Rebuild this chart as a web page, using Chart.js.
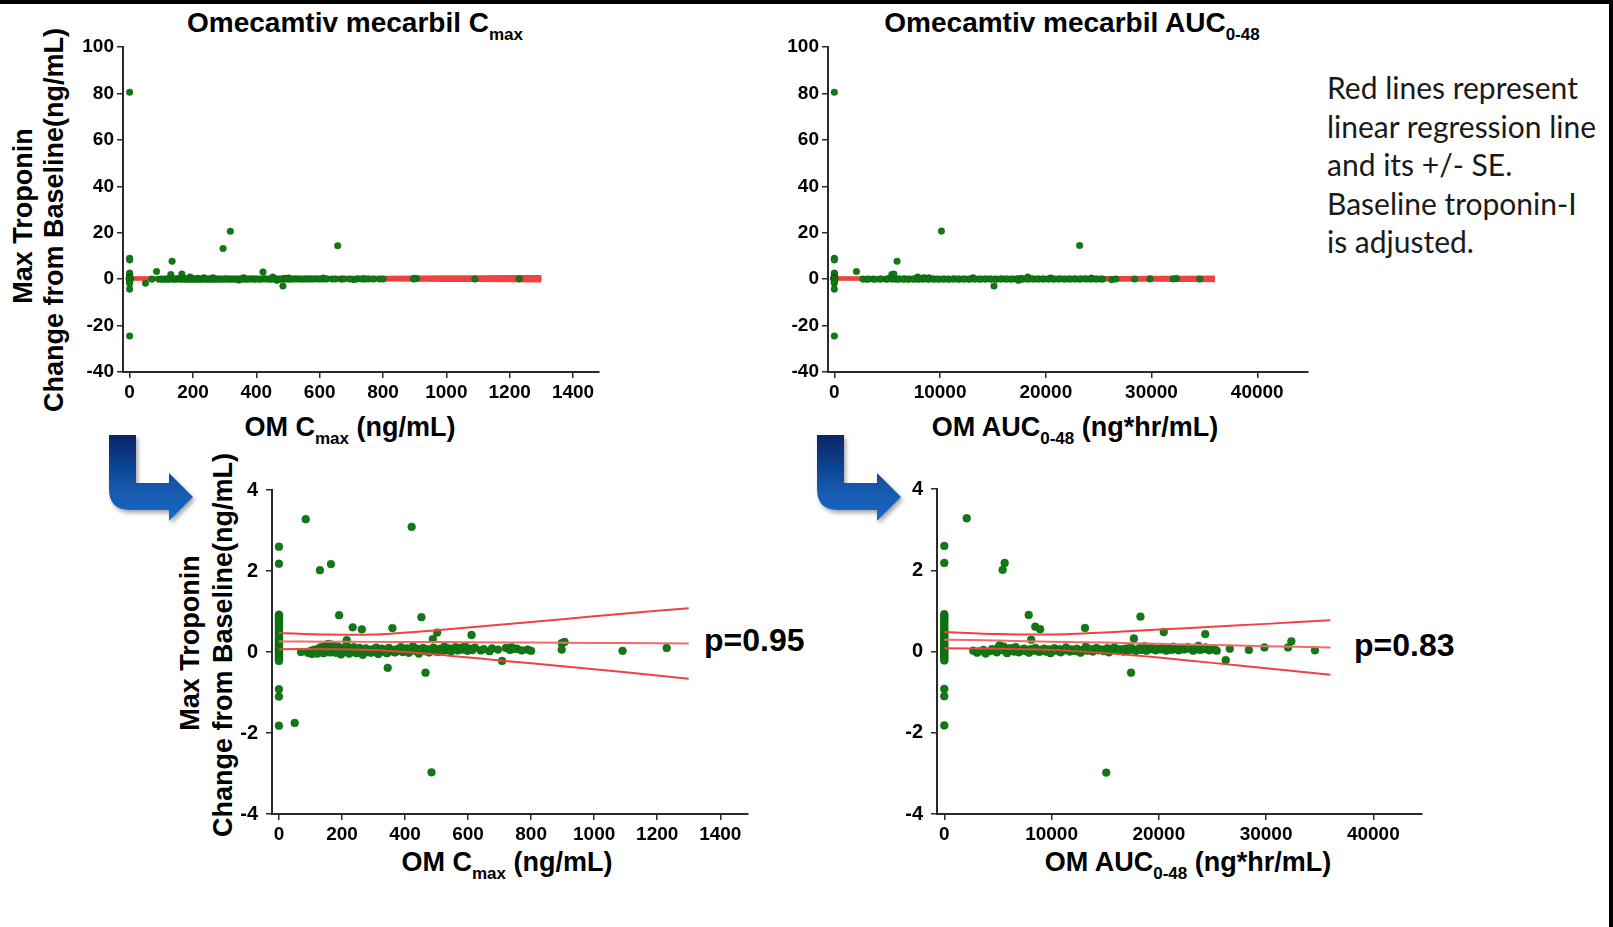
<!DOCTYPE html>
<html><head><meta charset="utf-8">
<script src="https://cdn.jsdelivr.net/npm/chart.js@4.4.1/dist/chart.umd.min.js"></script>
<style>
html,body{margin:0;padding:0;background:#fff;}
#stage{position:relative;width:1613px;height:927px;overflow:hidden;background:#fff;font-family:'Liberation Sans',Arial,sans-serif;}
.lbl{position:absolute;white-space:nowrap;font-weight:bold;color:#000;font-size:27px;line-height:30px;transform:translateX(-50%);}
.ttl{font-size:28px;}
.sub{font-size:17px;position:relative;top:8px;}
.ylab{position:absolute;white-space:nowrap;font-weight:bold;color:#000;font-size:27px;line-height:30px;transform:translate(-50%,-50%) rotate(-90deg);}
.pval{position:absolute;font-weight:bold;font-size:32px;line-height:36px;color:#000;}
.note{position:absolute;left:1327px;top:68px;font-family:Lato,'Open Sans',sans-serif;font-size:30px;line-height:38.6px;color:#1a1a1a;white-space:nowrap;}
canvas{position:absolute;}
.bar{position:absolute;background:#000;}
</style></head>
<body>
<div id="stage">
  <div class="bar" style="left:0;top:0;width:1613px;height:4px"></div>
  <div class="bar" style="left:1609px;top:0;width:4px;height:927px"></div>

  <div class="lbl ttl" style="left:355px;top:8px">Omecamtiv mecarbil C<span class="sub">max</span></div>
  <div class="lbl ttl" style="left:1072px;top:8px">Omecamtiv mecarbil AUC<span class="sub">0-48</span></div>
  <div class="lbl" style="left:350px;top:412px">OM C<span class="sub">max</span> (ng/mL)</div>
  <div class="lbl" style="left:1075px;top:412px">OM AUC<span class="sub">0-48</span> (ng*hr/mL)</div>
  <div class="lbl" style="left:507px;top:847px">OM C<span class="sub">max</span> (ng/mL)</div>
  <div class="lbl" style="left:1188px;top:847px">OM AUC<span class="sub">0-48</span> (ng*hr/mL)</div>

  <div class="ylab" style="left:23px;top:216px">Max Troponin</div>
  <div class="ylab" style="left:54px;top:220px">Change from Baseline(ng/mL)</div>
  <div class="ylab" style="left:190px;top:643px">Max Troponin</div>
  <div class="ylab" style="left:223px;top:645px">Change from Baseline(ng/mL)</div>

  <div class="pval" style="left:704px;top:622px">p=0.95</div>
  <div class="pval" style="left:1354px;top:627px">p=0.83</div>

  <div class="note">Red lines represent<br>linear regression line<br>and its +/- SE.<br>Baseline troponin-I<br>is adjusted.</div>

  <svg style="position:absolute;left:0;top:0" width="1613" height="927">
    <defs>
      <linearGradient id="g1" x1="0" y1="435" x2="0" y2="522" gradientUnits="userSpaceOnUse">
        <stop offset="0" stop-color="#0b2466"/><stop offset="0.55" stop-color="#1254a8"/><stop offset="1" stop-color="#1a6cc6"/>
      </linearGradient>
      <filter id="sh" x="-20%" y="-20%" width="150%" height="150%">
        <feGaussianBlur in="SourceAlpha" stdDeviation="2"/><feOffset dx="2" dy="3"/>
        <feComponentTransfer><feFuncA type="linear" slope="0.35"/></feComponentTransfer>
        <feMerge><feMergeNode/><feMergeNode in="SourceGraphic"/></feMerge>
      </filter>
    </defs>
    <path filter="url(#sh)" fill="url(#g1)" d="M109,435 L136,435 L136,483 L169,483 L169,473 L193,497 L169,521 L169,510 L130,510 Q109,510 109,489 Z"/>
    <path filter="url(#sh)" fill="url(#g1)" transform="translate(708,0)" d="M109,435 L136,435 L136,483 L169,483 L169,473 L193,497 L169,521 L169,510 L130,510 Q109,510 109,489 Z"/>
  </svg>
</div>
<script>
// ---------- tick labels ----------
const tickCmax = [0, 200, 400, 600, 800, 1000, 1200, 1400];
const tickAuc = [0, 10000, 20000, 30000, 40000];
const tickTopY = [-40, -20, 0, 20, 40, 60, 80, 100];
const tickBottomY = [-4, -2, 0, 2, 4];

// ---------- placebo (x = 0) troponin change ----------
const placeboY = [80.5, 9.0, 8.3, 2.6, 2.18, 0.92, 0.88, 0.84, 0.8, 0.76, 0.71, 0.66, 0.6, 0.55, 0.5, 0.46, 0.42, 0.38, 0.34, 0.3, 0.26, 0.22, 0.18, 0.14, 0.1, 0.07, 0.04, 0.01, -0.02, -0.06, -0.1, -0.14, -0.18, -0.22, -0.92, -1.1, -1.82, -4.3, -24.5];

// ---------- Cmax scatter ----------
const cmaxOutliers = [[50,-1.75],[85,3.28],[130,2.02],[165,2.17],[421,3.09],[191,0.91],[234,0.61],[263,0.56],[360,0.59],[452,0.86],[502,0.48],[488,0.32],[611,0.42],[215,0.29],[345,-0.39],[465,-0.51],[484,-2.97],[708,-0.22],[897,0.22],[906,0.25],[897,0.06],[1090,0.03],[1230,0.1],[789,0.06],[800,0.03],[755,0.08],[738,0.12],[134,7.7],[295,13.2],[318,20.6],[657,14.4]];
const cmaxBandX = [70,92,100,105,112,118,122,127,133,138,142,147,151,156,160,163,168,172,176,180,184,188,193,197,201,205,210,214,219,223,228,232,237,242,246,251,256,260,266,271,276,281,287,292,298,303,309,315,320,326,331,337,343,349,355,362,368,374,380,387,393,399,405,412,418,425,431,438,444,450,457,463,470,476,483,490,497,504,511,518,525,532,539,546,553,560,567,574,582,590,598,606,614,622,640,650,668,676,695,720,733,745,770];
const cmaxBandY = [0.00,-0.02,0.03,-0.05,0.06,0.01,-0.04,0.09,0.12,0.02,-0.03,0.15,0.05,0.2,0.08,-0.01,0.18,0.04,0.11,-0.02,0.07,0.13,0.02,-0.06,0.09,0.05,0.0,0.16,0.03,-0.04,0.08,0.01,0.12,0.05,-0.03,0.06,0.1,0.02,-0.07,0.04,0.09,0.0,0.05,-0.02,0.07,0.03,0.11,-0.05,0.04,0.08,0.01,0.06,-0.03,0.1,0.02,0.05,-0.01,0.07,0.03,0.12,0.0,0.04,0.09,-0.02,0.06,0.14,0.03,0.08,-0.04,0.05,0.1,0.02,0.07,-0.01,0.04,0.11,0.06,0.0,0.08,0.03,0.13,0.05,0.09,0.02,0.07,0.12,0.04,0.1,0.06,0.15,0.03,0.08,0.05,0.11,0.04,0.07,0.02,0.09,0.06,0.1,0.05,0.08,0.04];

// ---------- AUC scatter ----------
const aucOutliers = [[2090,3.28],[5440,2.01],[5630,2.18],[7870,0.9],[8480,0.61],[8940,0.55],[13120,0.58],[18290,0.86],[20460,0.48],[24330,0.43],[17680,0.32],[8100,0.29],[17410,-0.52],[15100,-2.98],[26240,-0.21],[32360,0.25],[32050,0.1],[34560,0.03],[28400,0.04],[29850,0.1],[26620,0.07],[5930,7.7],[10130,20.7],[23200,14.5]];
const aucBandX = [2700,3050,3200,3650,3850,4300,4450,4900,5050,5150,5450,5550,5850,6050,6150,6500,6650,6950,7100,7450,7550,7900,8050,8350,8500,8850,8950,9300,9450,9750,9900,10250,10400,10750,10850,11200,11350,11700,11850,12200,12350,12700,12850,13200,13350,13700,13850,14200,14350,14700,14850,15200,15350,15700,15850,16200,16350,16700,16850,17200,17350,17700,17850,18200,18350,18700,18850,19200,19350,19700,19850,20200,20350,20700,20850,21200,21350,21700,21850,22200,22350,22700,22850,23200,23350,23700,23850,24200,24350,24700,24850,25200,25400];
const aucBandY = [0.02,-0.03,0.0,0.04,-0.05,0.01,0.06,-0.02,0.1,0.15,0.03,0.12,-0.04,0.05,0.08,0.0,0.11,-0.02,0.04,0.07,0.01,-0.03,0.06,0.02,0.09,-0.01,0.04,0.07,0.0,0.05,-0.04,0.08,0.02,0.06,-0.02,0.03,0.1,0.0,0.05,0.01,0.07,-0.03,0.04,0.12,0.02,0.06,0.0,0.09,0.03,0.05,0.01,0.08,-0.02,0.04,0.1,0.02,0.06,0.0,0.07,0.03,0.11,0.05,0.01,0.08,0.04,0.13,0.02,0.06,0.09,0.03,0.07,0.05,0.1,0.02,0.08,0.04,0.12,0.06,0.03,0.09,0.05,0.11,0.07,0.02,0.08,0.14,0.04,0.06,0.1,0.03,0.07,0.05,0.02];

// ---------- regression line and +/- SE ----------
const cmaxFitX = [0, 150, 300, 500, 700, 900, 1100, 1300];
const cmaxFitUpper = [0.47, 0.43, 0.43, 0.54, 0.67, 0.81, 0.95, 1.08];
const cmaxFitMid = [0.26, 0.255, 0.25, 0.245, 0.235, 0.23, 0.22, 0.21];
const cmaxFitLower = [0.07, 0.07, 0.05, -0.06, -0.21, -0.35, -0.50, -0.66];

const aucFitX = [0, 5000, 10000, 15000, 20000, 25000, 30000, 36000];
const aucFitUpper = [0.48, 0.43, 0.42, 0.47, 0.54, 0.61, 0.68, 0.77];
const aucFitMid = [0.29, 0.27, 0.24, 0.22, 0.19, 0.16, 0.13, 0.10];
const aucFitLower = [0.08, 0.07, 0.04, -0.04, -0.15, -0.28, -0.41, -0.57];

// ---------- build ----------
const GREEN = '#117a14', RED = '#ef4242', RED_MID = '#f26a6a', AXIS = '#2a2a2a';
const FONT = "'Liberation Sans', Arial, sans-serif";

function pts(outliers, bx, by) {
  const a = placeboY.map(y => ({x: 0, y}));
  outliers.forEach(([x, y]) => a.push({x, y}));
  bx.forEach((x, i) => a.push({x, y: by[i]}));
  return a;
}
function line(xs, ys) { return xs.map((x, i) => ({x, y: ys[i]})); }

function makeChart(area, xr, yr, xt, yt, points, fits, opt) {
  const Wy = 75, Hx = 45, padTop = 26, padRight = 20;
  const c = document.createElement('canvas');
  const w = area.R - area.L + Wy + padRight, h = area.B - area.T + padTop + Hx;
  c.width = w; c.height = h;
  c.style.left = (area.L - Wy) + 'px'; c.style.top = (area.T - padTop) + 'px';
  document.getElementById('stage').appendChild(c);
  const ds = [{
    data: points, type: 'scatter', showLine: false, pointRadius: opt.dotR,
    pointBackgroundColor: GREEN, pointBorderColor: '#0b5e0d', pointBorderWidth: 0.5,
    order: opt.linesOnTop ? 1 : 0, clip: 4
  }];
  fits.forEach((f, i) => ds.push({
    data: f, type: 'scatter', showLine: true, pointRadius: 0,
    borderColor: (i === 1 && opt.linesOnTop) ? RED_MID : RED,
    borderWidth: opt.lineW, tension: 0.3, fill: false, order: opt.linesOnTop ? 0 : 1
  }));
  const axisCommon = (ticksArr, isX) => ({
    type: 'linear',
    afterBuildTicks: s => { s.ticks = ticksArr.map(v => ({value: v})); },
    afterFit: s => { if (isX) s.height = Hx; else s.width = Wy; },
    grid: {display: true, drawOnChartArea: false, drawTicks: true, tickLength: 6, color: AXIS, lineWidth: 1.5},
    border: {display: true, color: AXIS, width: 2},
    ticks: {font: {family: FONT, size: isX ? 19 : opt.yFont, weight: 'bold'}, color: '#000',
            padding: isX ? 3 : opt.yPad, autoSkip: false, maxRotation: 0, minRotation: 0,
            callback: v => String(v)}
  });
  new Chart(c, {
    type: 'scatter',
    data: {datasets: ds},
    options: {
      responsive: false, animation: false, events: [],
      layout: {padding: {left: 0, top: padTop, right: padRight, bottom: 0}},
      plugins: {legend: {display: false}, tooltip: {enabled: false}},
      scales: {
        x: Object.assign(axisCommon(xt, true), {min: xr[0], max: xr[1]}),
        y: Object.assign(axisCommon(yt, false), {min: yr[0], max: yr[1]})
      }
    }
  });
}

const cmaxPts = pts(cmaxOutliers, cmaxBandX, cmaxBandY);
const aucPts = pts(aucOutliers, aucBandX, aucBandY);
const cmaxFits = [line(cmaxFitX, cmaxFitUpper), line(cmaxFitX, cmaxFitMid), line(cmaxFitX, cmaxFitLower)];
const aucFits = [line(aucFitX, aucFitUpper), line(aucFitX, aucFitMid), line(aucFitX, aucFitLower)];

const topOpt = {linesOnTop: false, dotR: 3.3, lineW: 3.5, yFont: 19, yPad: 3};
const botOpt = {linesOnTop: true, dotR: 3.9, lineW: 2, yFont: 20, yPad: 8};

makeChart({L: 123, R: 599, T: 47, B: 372}, [-21, 1482], [-40, 100], tickCmax, tickTopY, cmaxPts, cmaxFits, topOpt);
makeChart({L: 828, R: 1308, T: 47, B: 372}, [-600, 44800], [-40, 100], tickAuc, tickTopY, aucPts, aucFits, topOpt);
makeChart({L: 272, R: 748, T: 490, B: 814}, [-22, 1488], [-4, 4], tickCmax, tickBottomY, cmaxPts, cmaxFits, botOpt);
makeChart({L: 937, R: 1422, T: 489, B: 814}, [-680, 44540], [-4, 4], tickAuc, tickBottomY, aucPts, aucFits, botOpt);
</script>
</body></html>
